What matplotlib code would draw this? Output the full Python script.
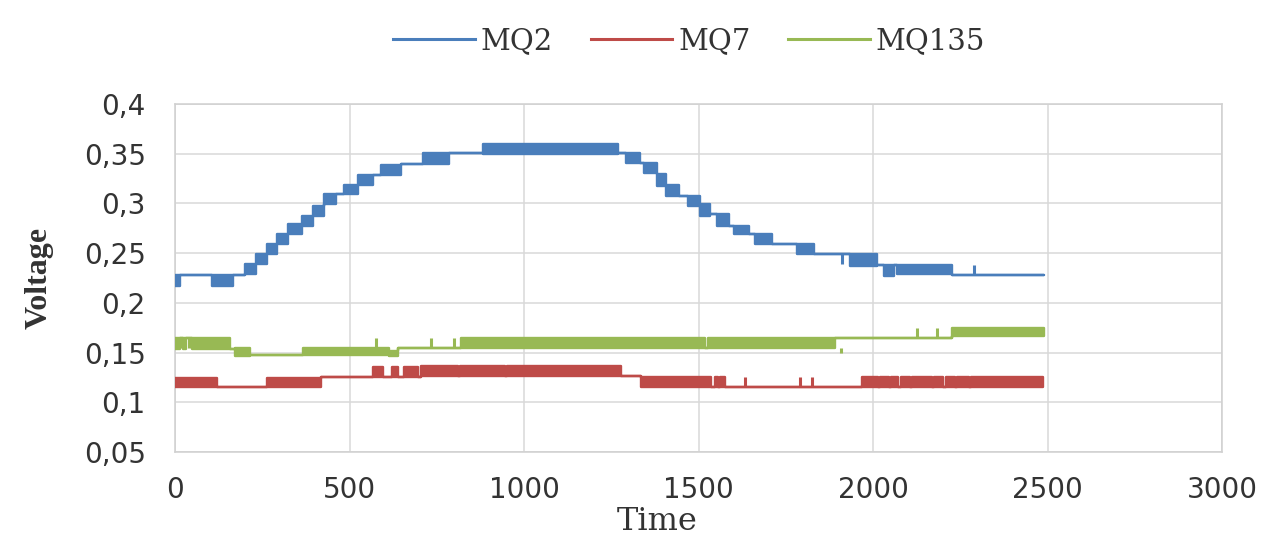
import numpy as np
import matplotlib
matplotlib.use("Agg")
import matplotlib.pyplot as plt
from matplotlib.lines import Line2D
from matplotlib.ticker import FuncFormatter

# ---------------- data ----------------
# Each series: segment edges in time, and lower / upper voltage level in each
# segment (lower == upper -> steady value, lower < upper -> flicker between levels)
mq2_t = [0, 15, 105, 165, 200, 232, 264, 293, 325, 365, 394, 428, 460, 483, 523,
         566, 589, 647, 710, 785, 882, 1270, 1293, 1331, 1345, 1380, 1408, 1443,
         1471, 1503, 1532, 1552, 1586, 1601, 1644, 1661, 1710, 1782, 1831, 1934,
         2012, 2032, 2060, 2070, 2227, 2490]
mq2_lo = [0.217, 0.228, 0.217, 0.228, 0.229, 0.239, 0.249, 0.259, 0.269, 0.277,
          0.287, 0.299, 0.309, 0.309, 0.319, 0.329, 0.329, 0.340, 0.340, 0.351,
          0.350, 0.351, 0.341, 0.341, 0.331, 0.318, 0.307, 0.307, 0.297, 0.287,
          0.289, 0.277, 0.277, 0.269, 0.269, 0.259, 0.259, 0.249, 0.249, 0.237,
          0.238, 0.227, 0.238, 0.229, 0.228]
mq2_hi = [0.228, 0.228, 0.228, 0.228, 0.239, 0.249, 0.259, 0.269, 0.279, 0.287,
          0.297, 0.309, 0.309, 0.319, 0.329, 0.329, 0.339, 0.340, 0.351, 0.351,
          0.360, 0.351, 0.351, 0.341, 0.341, 0.330, 0.319, 0.307, 0.307, 0.299,
          0.289, 0.289, 0.277, 0.277, 0.269, 0.269, 0.259, 0.259, 0.249, 0.249,
          0.238, 0.238, 0.238, 0.238, 0.228]
mq2_spike_t = [1911, 2290]
mq2_spike_lo = [0.239, 0.228]
mq2_spike_hi = [0.249, 0.238]

mq7_t = [0, 121, 264, 417, 566, 595, 622, 638, 655, 695, 704, 811, 817, 946, 952,
         1279, 1336, 1537, 1546, 1557, 1561, 1575, 1969, 2015, 2021, 2047, 2053,
         2073, 2079, 2105, 2111, 2168, 2174, 2202, 2208, 2234, 2240, 2274, 2280,
         2486]
mq7_lo = [0.115, 0.115, 0.115, 0.125, 0.125, 0.125, 0.125, 0.125, 0.125, 0.125,
          0.126, 0.126, 0.126, 0.126, 0.126, 0.126, 0.115,
          0.115, 0.115, 0.115, 0.115, 0.115, 0.115, 0.115, 0.115, 0.115, 0.115,
          0.115, 0.115, 0.115, 0.115, 0.115, 0.115, 0.115, 0.115, 0.115, 0.115,
          0.115, 0.115]
mq7_hi = [0.124, 0.115, 0.124, 0.125, 0.135, 0.125, 0.135, 0.125, 0.135, 0.125,
          0.136, 0.126, 0.136, 0.126, 0.136, 0.126, 0.125,
          0.115, 0.125, 0.115, 0.125, 0.115, 0.125, 0.115, 0.125, 0.115, 0.125,
          0.115, 0.125, 0.115, 0.125, 0.115, 0.125, 0.115, 0.125, 0.115, 0.125,
          0.115, 0.125]
mq7_spike_t = [1633, 1791, 1825]
mq7_spike_lo = [0.115, 0.115, 0.115]
mq7_spike_hi = [0.125, 0.125, 0.125]

mq135_t = [0, 14, 24, 32, 50, 158, 172, 216, 368, 612, 640, 820, 1519, 1527,
           1891, 2227, 2490]
mq135_lo = [0.154, 0.165, 0.154, 0.165, 0.154, 0.154, 0.147, 0.148, 0.148, 0.147,
            0.155, 0.155, 0.155, 0.155, 0.165, 0.167]
mq135_hi = [0.165, 0.165, 0.165, 0.165, 0.165, 0.154, 0.155, 0.148, 0.155, 0.152,
            0.155, 0.165, 0.155, 0.165, 0.165, 0.175]
mq135_spike_t = [18, 41, 575, 733, 800, 1907, 2127, 2184]
mq135_spike_lo = [0.155, 0.155, 0.155, 0.155, 0.155, 0.150, 0.165, 0.165]
mq135_spike_hi = [0.165, 0.165, 0.165, 0.165, 0.165, 0.155, 0.175, 0.175]

series_names = ["MQ2", "MQ7", "MQ135"]
x_ticks = [0, 500, 1000, 1500, 2000, 2500, 3000]
y_ticks = [0.05, 0.1, 0.15, 0.2, 0.25, 0.3, 0.35, 0.4]

# ---------------- styling ----------------
colors = {"MQ2": "#4A7EBB", "MQ7": "#BE4B48", "MQ135": "#98B954"}
LW = 1.7
TXT = "#333333"

fig = plt.figure(figsize=(12.62, 5.39), dpi=100)
ax = fig.add_axes([175 / 1262, 1 - 452 / 539, (1222 - 175) / 1262, (452 - 104) / 539])

series = {
    "MQ2": (mq2_t, mq2_lo, mq2_hi, mq2_spike_t, mq2_spike_lo, mq2_spike_hi),
    "MQ7": (mq7_t, mq7_lo, mq7_hi, mq7_spike_t, mq7_spike_lo, mq7_spike_hi),
    "MQ135": (mq135_t, mq135_lo, mq135_hi, mq135_spike_t, mq135_spike_lo, mq135_spike_hi),
}

for name in ["MQ7", "MQ135", "MQ2"]:
    t, lo, hi, st, slo, shi = series[name]
    c = colors[name]
    edges = np.asarray(t, dtype=float)
    lo_a = np.append(lo, lo[-1])
    hi_a = np.append(hi, hi[-1])
    ax.fill_between(edges, lo_a, hi_a, step="post", facecolor=c, edgecolor=c,
                    linewidth=LW, joinstyle="round", zorder=3)
    ax.vlines(st, slo, shi, colors=c, linewidth=2.2, zorder=3)

ax.set_xlim(0, 3000)
ax.set_ylim(0.05, 0.4)
ax.set_xticks(x_ticks)
ax.set_yticks(y_ticks)
ax.yaxis.set_major_formatter(FuncFormatter(lambda v, p: f"{v:g}".replace(".", ",")))
ax.grid(True, color="#D9D9D9", linewidth=1.1, zorder=0)
ax.set_axisbelow(True)
for s in ax.spines.values():
    s.set_color("#D0D0D0")
    s.set_linewidth(1.1)
ax.tick_params(axis="both", length=0, labelsize=20, colors=TXT)
ax.tick_params(axis="y", pad=21)
ax.tick_params(axis="x", pad=17)

ax.set_ylabel("Voltage", family="Liberation Serif", fontsize=23, color=TXT,
              va="center", ha="center", fontweight="bold")
ax.yaxis.set_label_coords(-0.13, 0.5)
ax.set_xlabel("Time", family="DejaVu Serif", fontsize=23, color=TXT, va="center")
ax.xaxis.set_label_coords(0.461, -0.2)

handles = [Line2D([0], [0], color=colors[n], lw=2.2) for n in series_names]
fig.legend(handles, series_names, loc="center", bbox_to_anchor=(0.546, 0.924),
           ncol=3, frameon=False, handlelength=2.8, handletextpad=0.2,
           columnspacing=1.3, prop={"family": "DejaVu Serif", "size": 21},
           labelcolor=TXT)

fig.savefig("out.png", dpi=100)
